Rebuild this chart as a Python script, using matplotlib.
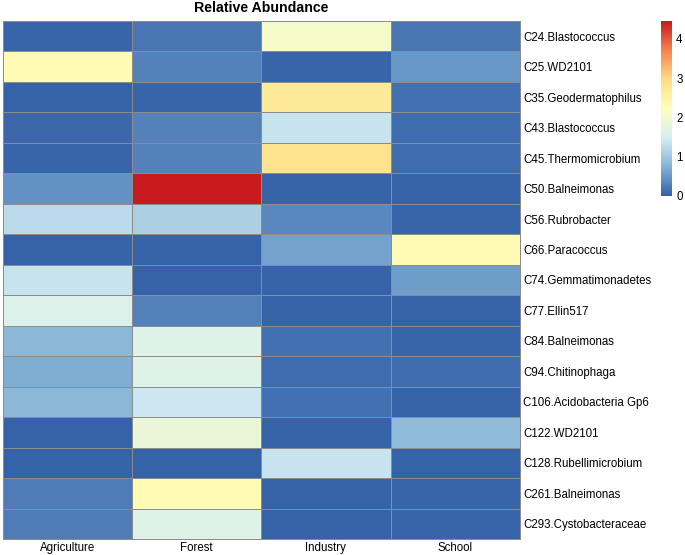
import matplotlib
matplotlib.use("Agg")
import matplotlib.pyplot as plt
import numpy as np
from matplotlib.colors import LinearSegmentedColormap

plt.rcParams['font.family'] = ['Liberation Sans', 'DejaVu Sans']

rows = ["C24.Blastococcus", "C25.WD2101", "C35.Geodermatophilus", "C43.Blastococcus",
        "C45.Thermomicrobium", "C50.Balneimonas", "C56.Rubrobacter", "C66.Paracoccus",
        "C74.Gemmatimonadetes", "C77.Ellin517", "C84.Balneimonas", "C94.Chitinophaga",
        "C106.Acidobacteria Gp6", "C122.WD2101", "C128.Rubellimicrobium", "C261.Balneimonas",
        "C293.Cystobacteraceae"]
cols = ["Agriculture", "Forest", "Industry", "School"]

agriculture = [0.05, 2.30, 0.03, 0.08, 0.05, 0.45, 1.25, 0.03, 1.35, 1.60, 0.80, 0.70, 0.80, 0.03, 0.03, 0.25, 0.25]
forest      = [0.20, 0.30, 0.05, 0.30, 0.30, 4.45, 1.10, 0.03, 0.03, 0.30, 1.65, 1.65, 1.40, 1.85, 0.03, 2.30, 1.65]
industry    = [2.05, 0.05, 2.70, 1.35, 2.85, 0.03, 0.35, 0.60, 0.03, 0.03, 0.15, 0.12, 0.15, 0.03, 1.35, 0.03, 0.03]
school      = [0.20, 0.50, 0.15, 0.12, 0.12, 0.03, 0.05, 2.30, 0.55, 0.03, 0.05, 0.12, 0.03, 0.85, 0.03, 0.05, 0.05]

cbar_ticks = [0, 1, 2, 3, 4]
vmin, vmax = 0.0, 4.45

data = np.array([agriculture, forest, industry, school]).T

cmap = LinearSegmentedColormap.from_list(
    "phm", ["#3460A7", "#85B3D6", "#D6EEF4", "#FFFFBA", "#FDDD85", "#F5834E", "#C8191E"], N=256)

W, H = 685, 555
fig = plt.figure(figsize=(W / 100, H / 100), dpi=100)

hx0, hx1, hy0, hy1 = 2.5, 520, 21, 539
ax = fig.add_axes([hx0 / W, 1 - hy1 / H, (hx1 - hx0) / W, (hy1 - hy0) / H])
mesh = ax.pcolormesh(np.arange(len(cols) + 1), np.arange(len(rows) + 1), data,
                     cmap=cmap, vmin=vmin, vmax=vmax,
                     edgecolors="#8c8c8c", linewidth=0.6)
mesh.set_clip_on(False)
ax.set_xlim(0, len(cols))
ax.set_ylim(len(rows), 0)
for s in ax.spines.values():
    s.set_visible(False)
ax.set_xticks(np.arange(len(cols)) + 0.5)
ax.set_xticklabels(cols, fontsize=8.3)
ax.set_yticks(np.arange(len(rows)) + 0.5)
ax.set_yticklabels(rows, fontsize=8.3)
ax.yaxis.tick_right()
ax.tick_params(axis="both", length=0)
ax.tick_params(axis="y", pad=2.2)
ax.tick_params(axis="x", pad=2.0)
fig.text((hx0 + hx1) / 2 / W, 1 - 8.5 / H, "Relative Abundance",
         fontsize=10.2, fontweight="bold", ha="center", va="center")

cx0, cx1, cy0, cy1 = 661, 672, 21, 196
cax = fig.add_axes([cx0 / W, 1 - cy1 / H, (cx1 - cx0) / W, (cy1 - cy0) / H])
cb = fig.colorbar(mesh, cax=cax, ticks=cbar_ticks)
cb.outline.set_visible(False)
cax.tick_params(length=0, labelsize=8.3, pad=3)

fig.savefig("out.png", dpi=100)
